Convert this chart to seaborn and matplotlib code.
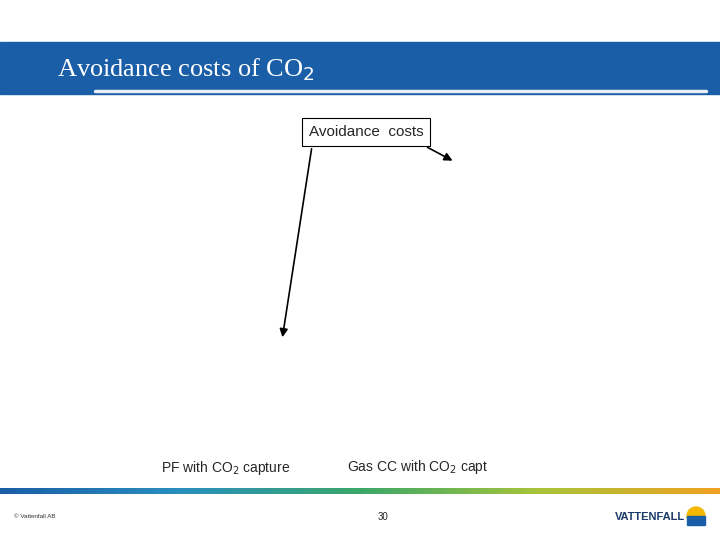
import matplotlib
matplotlib.use("Agg")
import matplotlib.pyplot as plt
import numpy as np
import seaborn as sns

sns.set_theme(style="white")
plt.rcParams['font.family'] = ['Liberation Sans', 'DejaVu Sans']

categories = ["PF with CO$_2$ capture", "Gas CC with CO$_2$ capt"]
label_x = [226, 418]
label_y = [468, 467]
arrow_start = [(312, 146), (425, 146)]
arrow_end = [(282, 340), (455, 162)]

fig = plt.figure(figsize=(7.2, 5.4), dpi=100)
ax = fig.add_axes([0, 0, 1, 1])
ax.set_xlim(0, 720)
ax.set_ylim(540, 0)
ax.axis("off")

# header band
ax.add_patch(plt.Rectangle((0, 42), 720, 52, color="#1a5ea8", zorder=1))
ax.plot([95, 706], [91, 91], color="#e8eef5", lw=2.5, zorder=2)
ax.text(57, 70, "Avoidance costs of CO$_2$", color="white", fontsize=19,
        family="Liberation Serif", va="center", ha="left", zorder=3)

# label box
ax.text(366, 132, "Avoidance  costs", fontsize=11, ha="center", va="center",
        bbox=dict(boxstyle="square,pad=0.45", fc="white", ec="black", lw=0.8))
for (x0, y0), (x1, y1) in zip(arrow_start, arrow_end):
    ax.annotate("", xy=(x1, y1), xytext=(x0, y0),
                arrowprops=dict(arrowstyle="-|>", color="black", lw=1.2,
                                mutation_scale=12))

for c, x, y in zip(categories, label_x, label_y):
    ax.text(x, y, c, fontsize=10, ha="center", va="center")

# bottom gradient bar
grad = np.linspace(0, 1, 256).reshape(1, -1)
cmap = matplotlib.colors.LinearSegmentedColormap.from_list(
    "v", ["#1a5ea8", "#2a8fbf", "#3aa86a", "#a8c43a", "#f0a020"])
ax.imshow(grad, extent=(0, 720, 494, 488), aspect="auto", cmap=cmap, zorder=2)

ax.text(14, 517, "© Vattenfall AB", fontsize=4.5, va="center", color="#333333")
ax.text(383, 517, "30", fontsize=7, ha="center", va="center")
ax.text(650, 517, "VATTENFALL", fontsize=8, fontweight="bold", ha="center",
        va="center", color="#1a3a6a")
ax.add_patch(plt.Circle((696, 516), 9, color="#f5b800", zorder=3))
ax.add_patch(plt.Rectangle((687, 516), 18, 9, color="#1a5ea8", zorder=4))

fig.savefig("out.png", dpi=100)
